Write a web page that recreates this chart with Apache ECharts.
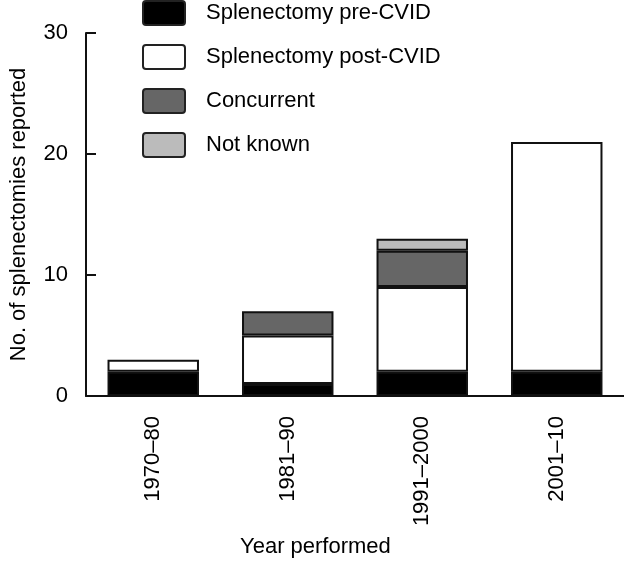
<!DOCTYPE html>
<html>
<head>
<meta charset="utf-8">
<script src="https://cdn.jsdelivr.net/npm/echarts@6/dist/echarts.min.js"></script>
<style>
html,body{margin:0;padding:0;background:#fff;}
#chart{width:624px;height:562px;}
</style>
</head>
<body>
<div id="chart"></div>
<script>
const categories = ['1970–80', '1981–90', '1991–2000', '2001–10'];
const preCVID = [2, 1, 2, 2];
const postCVID = [1, 4, 7, 19];
const concurrent = [0, 2, 3, 0];
const notKnown = [0, 0, 1, 0];
const yTicks = [0, 10, 20, 30];

const FONT = '"Liberation Sans", Arial, Helvetica, sans-serif';
const nz = arr => arr.map(v => v === 0 ? '-' : v);

function mk(name, data, color) {
  return {
    name: name,
    type: 'bar',
    stack: 'total',
    data: nz(data),
    barCategoryGap: '32%',
    itemStyle: { color: color, borderColor: '#111', borderWidth: 2 },
    emphasis: { disabled: true }
  };
}

const chart = echarts.init(document.getElementById('chart'), null, { renderer: 'canvas' });
chart.setOption({
  animation: false,
  backgroundColor: '#fff',
  textStyle: { fontFamily: FONT },
  title: {
    text: 'Year performed',
    left: 240,
    top: 536,
    padding: 0,
    textStyle: { fontFamily: FONT, fontSize: 22, fontWeight: 'normal', color: '#000' }
  },
  legend: {
    orient: 'vertical',
    left: 142,
    top: 0,
    padding: 0,
    itemWidth: 42,
    itemHeight: 24,
    itemGap: 18,
    icon: 'path://M3,0 L39,0 Q42,0 42,3 L42,21 Q42,24 39,24 L3,24 Q0,24 0,21 L0,3 Q0,0 3,0 Z',
    itemStyle: { borderColor: '#222', borderWidth: 2 },
    textStyle: { fontFamily: FONT, fontSize: 22, color: '#000', padding: [0, 0, 0, 16] },
    data: ['Splenectomy pre-CVID', 'Splenectomy post-CVID', 'Concurrent', 'Not known']
  },
  grid: { left: 80, right: 0, top: 33, bottom: 166, containLabel: false },
  xAxis: {
    type: 'category',
    data: categories,
    axisLine: { show: true, lineStyle: { color: '#111', width: 2 } },
    axisTick: { show: false },
    axisLabel: { rotate: 90, fontSize: 22, color: '#000', margin: 20, fontFamily: FONT },
    splitLine: { show: false }
  },
  yAxis: {
    type: 'value',
    min: yTicks[0],
    max: yTicks[yTicks.length - 1],
    interval: 10,
    name: 'No. of splenectomies reported',
    nameLocation: 'middle',
    nameGap: 56,
    nameTextStyle: { fontSize: 22, color: '#000', fontFamily: FONT },
    axisLine: { show: true, lineStyle: { color: '#111', width: 2 } },
    axisTick: { show: true, inside: true, length: 10, lineStyle: { color: '#111', width: 2 } },
    axisLabel: { fontSize: 22, color: '#000', margin: 18, fontFamily: FONT },
    splitLine: { show: false }
  },
  series: [
    mk('Splenectomy pre-CVID', preCVID, '#000000'),
    mk('Splenectomy post-CVID', postCVID, '#ffffff'),
    mk('Concurrent', concurrent, '#666666'),
    mk('Not known', notKnown, '#bbbbbb')
  ]
});
</script>
</body>
</html>
